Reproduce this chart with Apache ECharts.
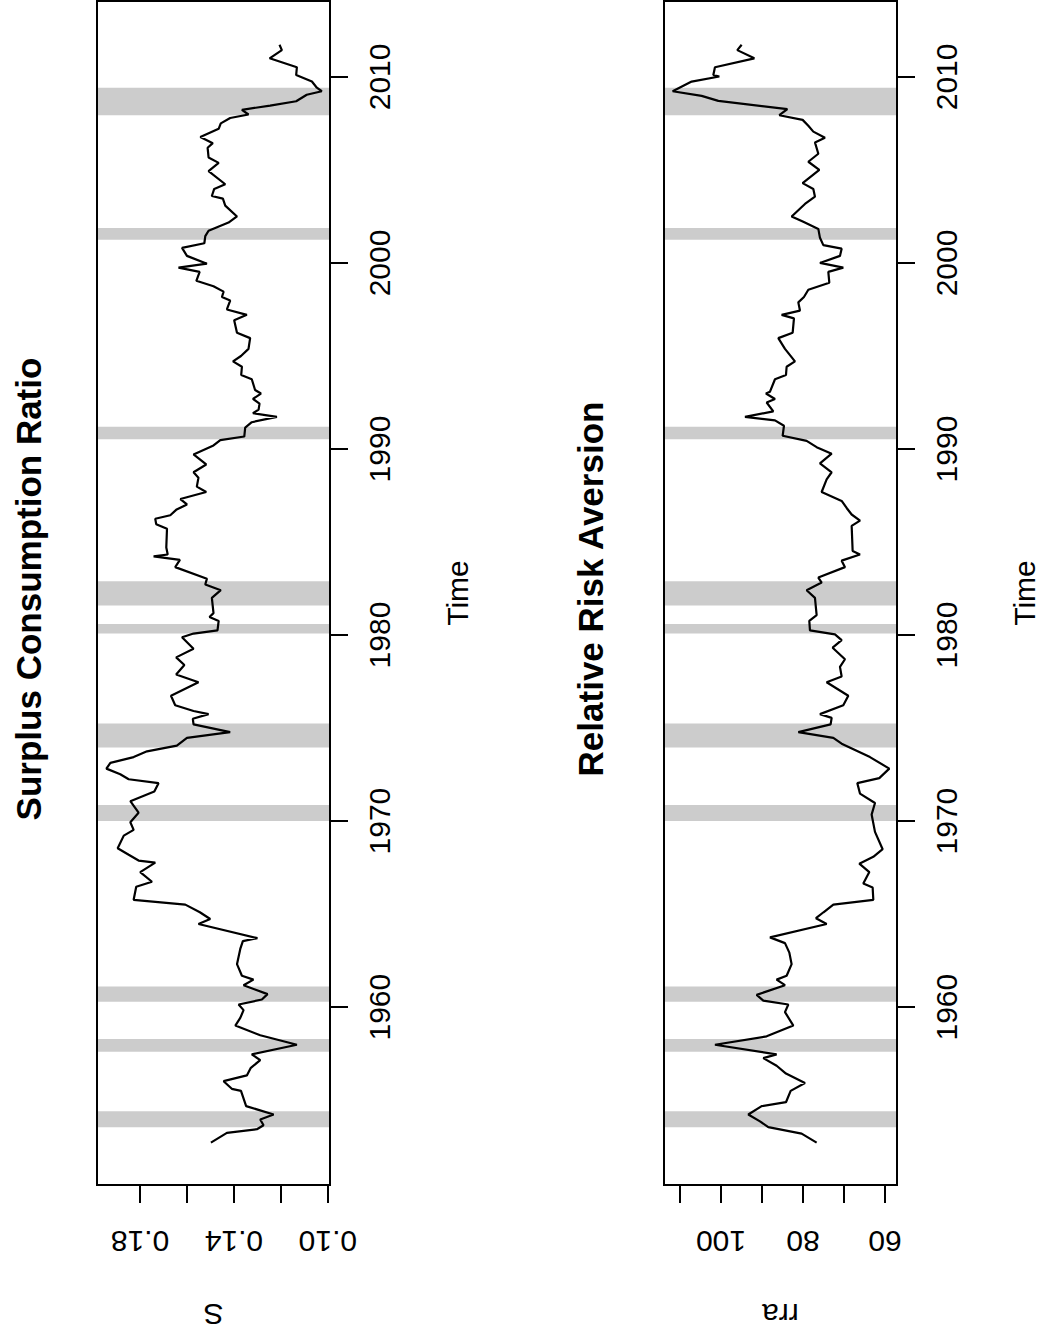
<!DOCTYPE html>
<html>
<head>
<meta charset="utf-8">
<script src="https://cdn.jsdelivr.net/npm/echarts@6/dist/echarts.min.js"></script>
<style>
  html, body { margin: 0; padding: 0; background: #fff; overflow: hidden; }
  #page { width: 1042px; height: 1337px; position: relative; overflow: hidden; }
  /* the figure is laid out in landscape and turned a quarter turn counter-clockwise */
  #chart {
    position: absolute; left: 0; top: 0;
    width: 1337px; height: 1042px;
    transform-origin: 0 0;
    transform: translate(0, 1337px) rotate(-90deg);
  }
</style>
</head>
<body>
<div id="page"><div id="chart"></div></div>
<script>
// Surplus consumption ratio, quarterly path (year, S)
const sYears = [
  1952.72, 1953.24, 1953.44, 1953.65, 1953.96, 1954.23, 1954.68, 1955.50, 1955.61, 1956.02,
  1956.33, 1956.74, 1957.15, 1957.46, 1957.98, 1958.49, 1959.01, 1959.42, 1959.84, 1960.14,
  1960.41, 1960.70, 1961.18, 1961.48, 1961.69, 1962.31, 1963.13, 1963.55, 1963.71, 1964.47,
  1964.74, 1965.10, 1965.51, 1965.77, 1966.47, 1966.74, 1967.26, 1967.77, 1967.88, 1968.19,
  1968.54, 1969.22, 1969.53, 1969.94, 1970.45, 1971.07, 1971.59, 1972.04, 1972.25, 1972.52,
  1972.82, 1973.13, 1973.44, 1973.75, 1974.06, 1974.47, 1974.78, 1975.20, 1975.50, 1975.75,
  1975.92, 1976.23, 1976.74, 1977.46, 1977.88, 1978.39, 1978.80, 1979.26, 1979.88, 1980.08,
  1980.25, 1980.76, 1980.97, 1981.18, 1982.00, 1982.41, 1982.72, 1983.03, 1983.65, 1984.04,
  1984.23, 1984.33, 1984.71, 1985.71, 1985.96, 1986.25, 1986.44, 1986.73, 1987.02, 1987.31,
  1987.69, 1987.98, 1988.46, 1988.75, 1989.17, 1989.71, 1990.19, 1990.48, 1990.67, 1991.15,
  1991.44, 1991.73, 1991.92, 1992.12, 1992.44, 1992.69, 1992.98, 1993.17, 1993.75, 1993.98,
  1994.42, 1994.71, 1995.00, 1995.38, 1995.96, 1996.25, 1996.92, 1997.21, 1997.50, 1997.98,
  1998.17, 1998.46, 1998.75, 1999.04, 1999.52, 1999.75, 1999.96, 2000.38, 2000.81, 2001.06,
  2001.44, 2001.73, 2002.17, 2002.50, 2003.08, 2003.46, 2003.60, 2003.98, 2004.23, 2004.94,
  2005.38, 2005.67, 2006.19, 2006.44, 2006.77, 2007.21, 2007.50, 2007.79, 2007.98, 2008.23,
  2008.46, 2008.69, 2009.04, 2009.23, 2009.42, 2009.75, 2010.10, 2010.52, 2011.00, 2011.44,
  2011.73
];
const sValues = [
  0.1498, 0.1430, 0.1302, 0.1274, 0.1288, 0.1231, 0.1348, 0.1370, 0.1409, 0.1444,
  0.1345, 0.1328, 0.1288, 0.1324, 0.1132, 0.1288, 0.1394, 0.1373, 0.1359, 0.1380,
  0.1281, 0.1257, 0.1359, 0.1317, 0.1366, 0.1387, 0.1373, 0.1362, 0.1300, 0.1551,
  0.1501, 0.1545, 0.1607, 0.1827, 0.1816, 0.1749, 0.1799, 0.1735, 0.1806, 0.1848,
  0.1895, 0.1869, 0.1827, 0.1841, 0.1806, 0.1841, 0.1739, 0.1721, 0.1848, 0.1884,
  0.1943, 0.1926, 0.1827, 0.1770, 0.1643, 0.1600, 0.1416, 0.1572, 0.1575, 0.1508,
  0.1572, 0.1650, 0.1668, 0.1551, 0.1646, 0.1611, 0.1646, 0.1572, 0.1621, 0.1572,
  0.1470, 0.1465, 0.1504, 0.1487, 0.1494, 0.1456, 0.1522, 0.1515, 0.1650, 0.1630,
  0.1742, 0.1682, 0.1688, 0.1685, 0.1731, 0.1735, 0.1671, 0.1646, 0.1600, 0.1628,
  0.1518, 0.1558, 0.1551, 0.1572, 0.1518, 0.1572, 0.1487, 0.1458, 0.1356, 0.1352,
  0.1324, 0.1217, 0.1319, 0.1295, 0.1291, 0.1319, 0.1285, 0.1310, 0.1324, 0.1369,
  0.1366, 0.1404, 0.1370, 0.1338, 0.1331, 0.1387, 0.1399, 0.1345, 0.1430, 0.1416,
  0.1451, 0.1444, 0.1487, 0.1560, 0.1546, 0.1636, 0.1515, 0.1600, 0.1621, 0.1526,
  0.1522, 0.1508, 0.1423, 0.1387, 0.1437, 0.1447, 0.1494, 0.1484, 0.1437, 0.1508,
  0.1465, 0.1508, 0.1512, 0.1490, 0.1543, 0.1465, 0.1456, 0.1416, 0.1338, 0.1366,
  0.1246, 0.1135, 0.1090, 0.1026, 0.1047, 0.1068, 0.1135, 0.1132, 0.1248, 0.1196,
  0.1206
];

// Relative risk aversion, quarterly path (year, rra)
const rraYears = [
  1952.72, 1953.20, 1953.55, 1953.86, 1954.23, 1954.68, 1954.89, 1955.50, 1955.92, 1956.43,
  1956.85, 1957.26, 1957.46, 1957.98, 1958.43, 1959.01, 1959.73, 1960.14, 1960.35, 1960.66,
  1961.18, 1961.48, 1961.69, 1962.31, 1962.93, 1963.44, 1963.75, 1964.47, 1964.78, 1965.10,
  1965.51, 1965.77, 1966.43, 1966.64, 1967.26, 1967.71, 1968.08, 1968.49, 1969.42, 1970.35,
  1970.97, 1971.48, 1972.04, 1972.31, 1972.82, 1973.44, 1974.16, 1974.47, 1974.78, 1975.20,
  1975.55, 1975.75, 1976.23, 1976.74, 1977.46, 1977.77, 1978.29, 1978.70, 1979.32, 1979.73,
  1980.04, 1980.25, 1980.76, 1981.07, 1982.00, 1982.41, 1982.82, 1983.09, 1983.65, 1984.00,
  1984.33, 1984.52, 1985.87, 1986.15, 1986.48, 1986.83, 1987.21, 1987.69, 1988.37, 1988.75,
  1989.23, 1989.75, 1990.10, 1990.44, 1990.71, 1991.25, 1991.54, 1991.73, 1992.02, 1992.50,
  1992.69, 1992.98, 1993.08, 1993.75, 1993.98, 1994.42, 1994.71, 1995.38, 1995.96, 1996.25,
  1997.02, 1997.21, 1997.44, 1997.88, 1998.17, 1998.56, 1998.94, 1999.52, 1999.75, 2000.00,
  2000.38, 2000.77, 2000.96, 2001.35, 2001.83, 2002.21, 2002.50, 2003.17, 2003.56, 2003.98,
  2004.29, 2005.00, 2005.44, 2005.87, 2006.48, 2006.73, 2007.06, 2007.37, 2007.69, 2007.94,
  2008.27, 2008.71, 2008.98, 2009.23, 2009.75, 2010.02, 2010.10, 2010.52, 2011.00, 2011.44,
  2011.73
];
const rraValues = [
  76.67, 80.33, 88.46, 90.49, 93.34, 90.08, 84.15, 83.01, 79.52, 84.15,
  86.43, 89.68, 86.43, 101.47, 88.86, 82.36, 84.39, 83.58, 89.68, 91.30,
  84.39, 86.43, 83.99, 82.77, 83.33, 84.39, 88.05, 74.23, 76.83, 75.00,
  72.60, 62.85, 63.01, 65.29, 63.82, 66.26, 62.85, 60.57, 62.44, 63.26,
  62.44, 66.10, 66.75, 61.39, 58.95, 63.66, 70.57, 72.60, 81.14, 73.26,
  73.01, 75.86, 70.17, 68.95, 74.23, 70.57, 70.98, 69.76, 72.77, 70.57,
  72.20, 78.30, 78.46, 76.67, 77.08, 79.11, 75.45, 76.26, 69.76, 70.57,
  66.10, 67.89, 68.13, 66.09, 68.13, 69.35, 70.57, 75.45, 74.23, 73.01,
  75.86, 73.01, 76.67, 79.11, 84.96, 84.64, 86.83, 94.15, 87.24, 88.86,
  86.83, 89.03, 88.05, 86.83, 84.15, 83.99, 81.96, 84.39, 86.02, 82.52,
  82.20, 85.21, 80.74, 81.14, 79.76, 78.70, 73.58, 73.82, 70.17, 75.86,
  70.98, 70.57, 75.04, 75.86, 76.26, 79.92, 82.77, 79.52, 77.08, 77.48,
  80.09, 76.02, 78.70, 76.26, 77.08, 74.64, 77.48, 78.70, 80.09, 85.77,
  83.82, 100.65, 104.72, 111.79, 107.16, 100.41, 101.87, 101.47, 91.87, 96.02,
  94.96
];

// NBER recession spans (start, end), in years
const recessionStart = [1953.55, 1957.60, 1960.29, 1970.00, 1973.96, 1980.08, 1981.59, 1990.52, 2001.25, 2007.94];
const recessionEnd   = [1954.41, 1958.29, 1961.11, 1970.87, 1975.24, 1980.60, 1982.89, 1991.19, 2001.88, 2009.42];

// axis ticks and labels
const timeTicks = [1960, 1970, 1980, 1990, 2000, 2010];
const sTicks = [0.10, 0.12, 0.14, 0.16, 0.18];
const sTickLabels = [0.10, 0.14, 0.18];
const rraTicks = [60, 70, 80, 90, 100, 110];
const rraTickLabels = [60, 80, 100];

const FONT = "'Liberation Sans', Arial, Helvetica, sans-serif";
const INK = '#000000';
const LABEL_SIZE = 30;

const zip = (xs, ys) => xs.map((x, i) => [x, ys[i]]);
const bands = recessionStart.map((s, i) => [{ xAxis: s }, { xAxis: recessionEnd[i] }]);

function timeAxis(gridIndex) {
  return {
    type: 'value', gridIndex: gridIndex,
    min: 1950.44, max: 2014.08,
    name: 'Time', nameLocation: 'middle', nameGap: 112,
    nameTextStyle: { fontFamily: FONT, fontSize: LABEL_SIZE, color: INK },
    axisLine: { show: false },
    axisTick: { show: true, length: 18, inside: false, customValues: timeTicks,
                lineStyle: { color: INK, width: 2 } },
    axisLabel: { show: true, customValues: timeTicks, margin: 34,
                 fontFamily: FONT, fontSize: LABEL_SIZE, color: INK,
                 formatter: v => String(Math.round(v)) },
    splitLine: { show: false },
    z: 6
  };
}

function valueAxis(gridIndex, name, min, max, ticks, labels, digits) {
  return {
    type: 'value', gridIndex: gridIndex,
    min: min, max: max,
    name: name, nameLocation: 'middle', nameGap: 114, nameRotate: 90,
    nameTextStyle: { fontFamily: FONT, fontSize: LABEL_SIZE, color: INK },
    axisLine: { show: false },
    axisTick: { show: true, length: 18, inside: false, customValues: ticks,
                lineStyle: { color: INK, width: 2 } },
    axisLabel: { show: true, customValues: labels, rotate: 90, margin: 41,
                 fontFamily: FONT, fontSize: LABEL_SIZE, color: INK,
                 formatter: v => v.toFixed(digits) },
    splitLine: { show: false },
    z: 6
  };
}

function panelSeries(index, data) {
  return [
    {
      type: 'line', xAxisIndex: index, yAxisIndex: index,
      data: [], silent: true, z: 1,
      markArea: { silent: true, itemStyle: { color: '#cccccc', borderWidth: 0 }, data: bands }
    },
    {
      type: 'line', xAxisIndex: index, yAxisIndex: index,
      data: data, showSymbol: false, symbol: 'none', silent: true, z: 3,
      lineStyle: { color: INK, width: 2.2 }
    }
  ];
}

const chart = echarts.init(document.getElementById('chart'), null, { renderer: 'svg', width: 1337, height: 1042 });
chart.setOption({
  animation: false,
  backgroundColor: '#ffffff',
  title: [
    { text: 'Surplus Consumption Ratio', left: 743, top: 6, textAlign: 'center',
      textStyle: { fontFamily: FONT, fontSize: 35, fontWeight: 'bold', color: INK } },
    { text: 'Relative Risk Aversion', left: 743, top: 568, textAlign: 'center',
      textStyle: { fontFamily: FONT, fontSize: 35, fontWeight: 'bold', color: INK } }
  ],
  grid: [
    { left: 151, top: 97, width: 1185, height: 233, show: true, z: 5,
      borderColor: INK, borderWidth: 2, backgroundColor: 'transparent' },
    { left: 151, top: 664, width: 1185, height: 233, show: true, z: 5,
      borderColor: INK, borderWidth: 2, backgroundColor: 'transparent' }
  ],
  xAxis: [timeAxis(0), timeAxis(1)],
  yAxis: [
    valueAxis(0, 'S', 0.0991, 0.1983, sTicks, sTickLabels, 2),
    valueAxis(1, 'rra', 57.07, 113.9, rraTicks, rraTickLabels, 0)
  ],
  series: [].concat(panelSeries(0, zip(sYears, sValues)), panelSeries(1, zip(rraYears, rraValues)))
});
</script>
</body>
</html>
